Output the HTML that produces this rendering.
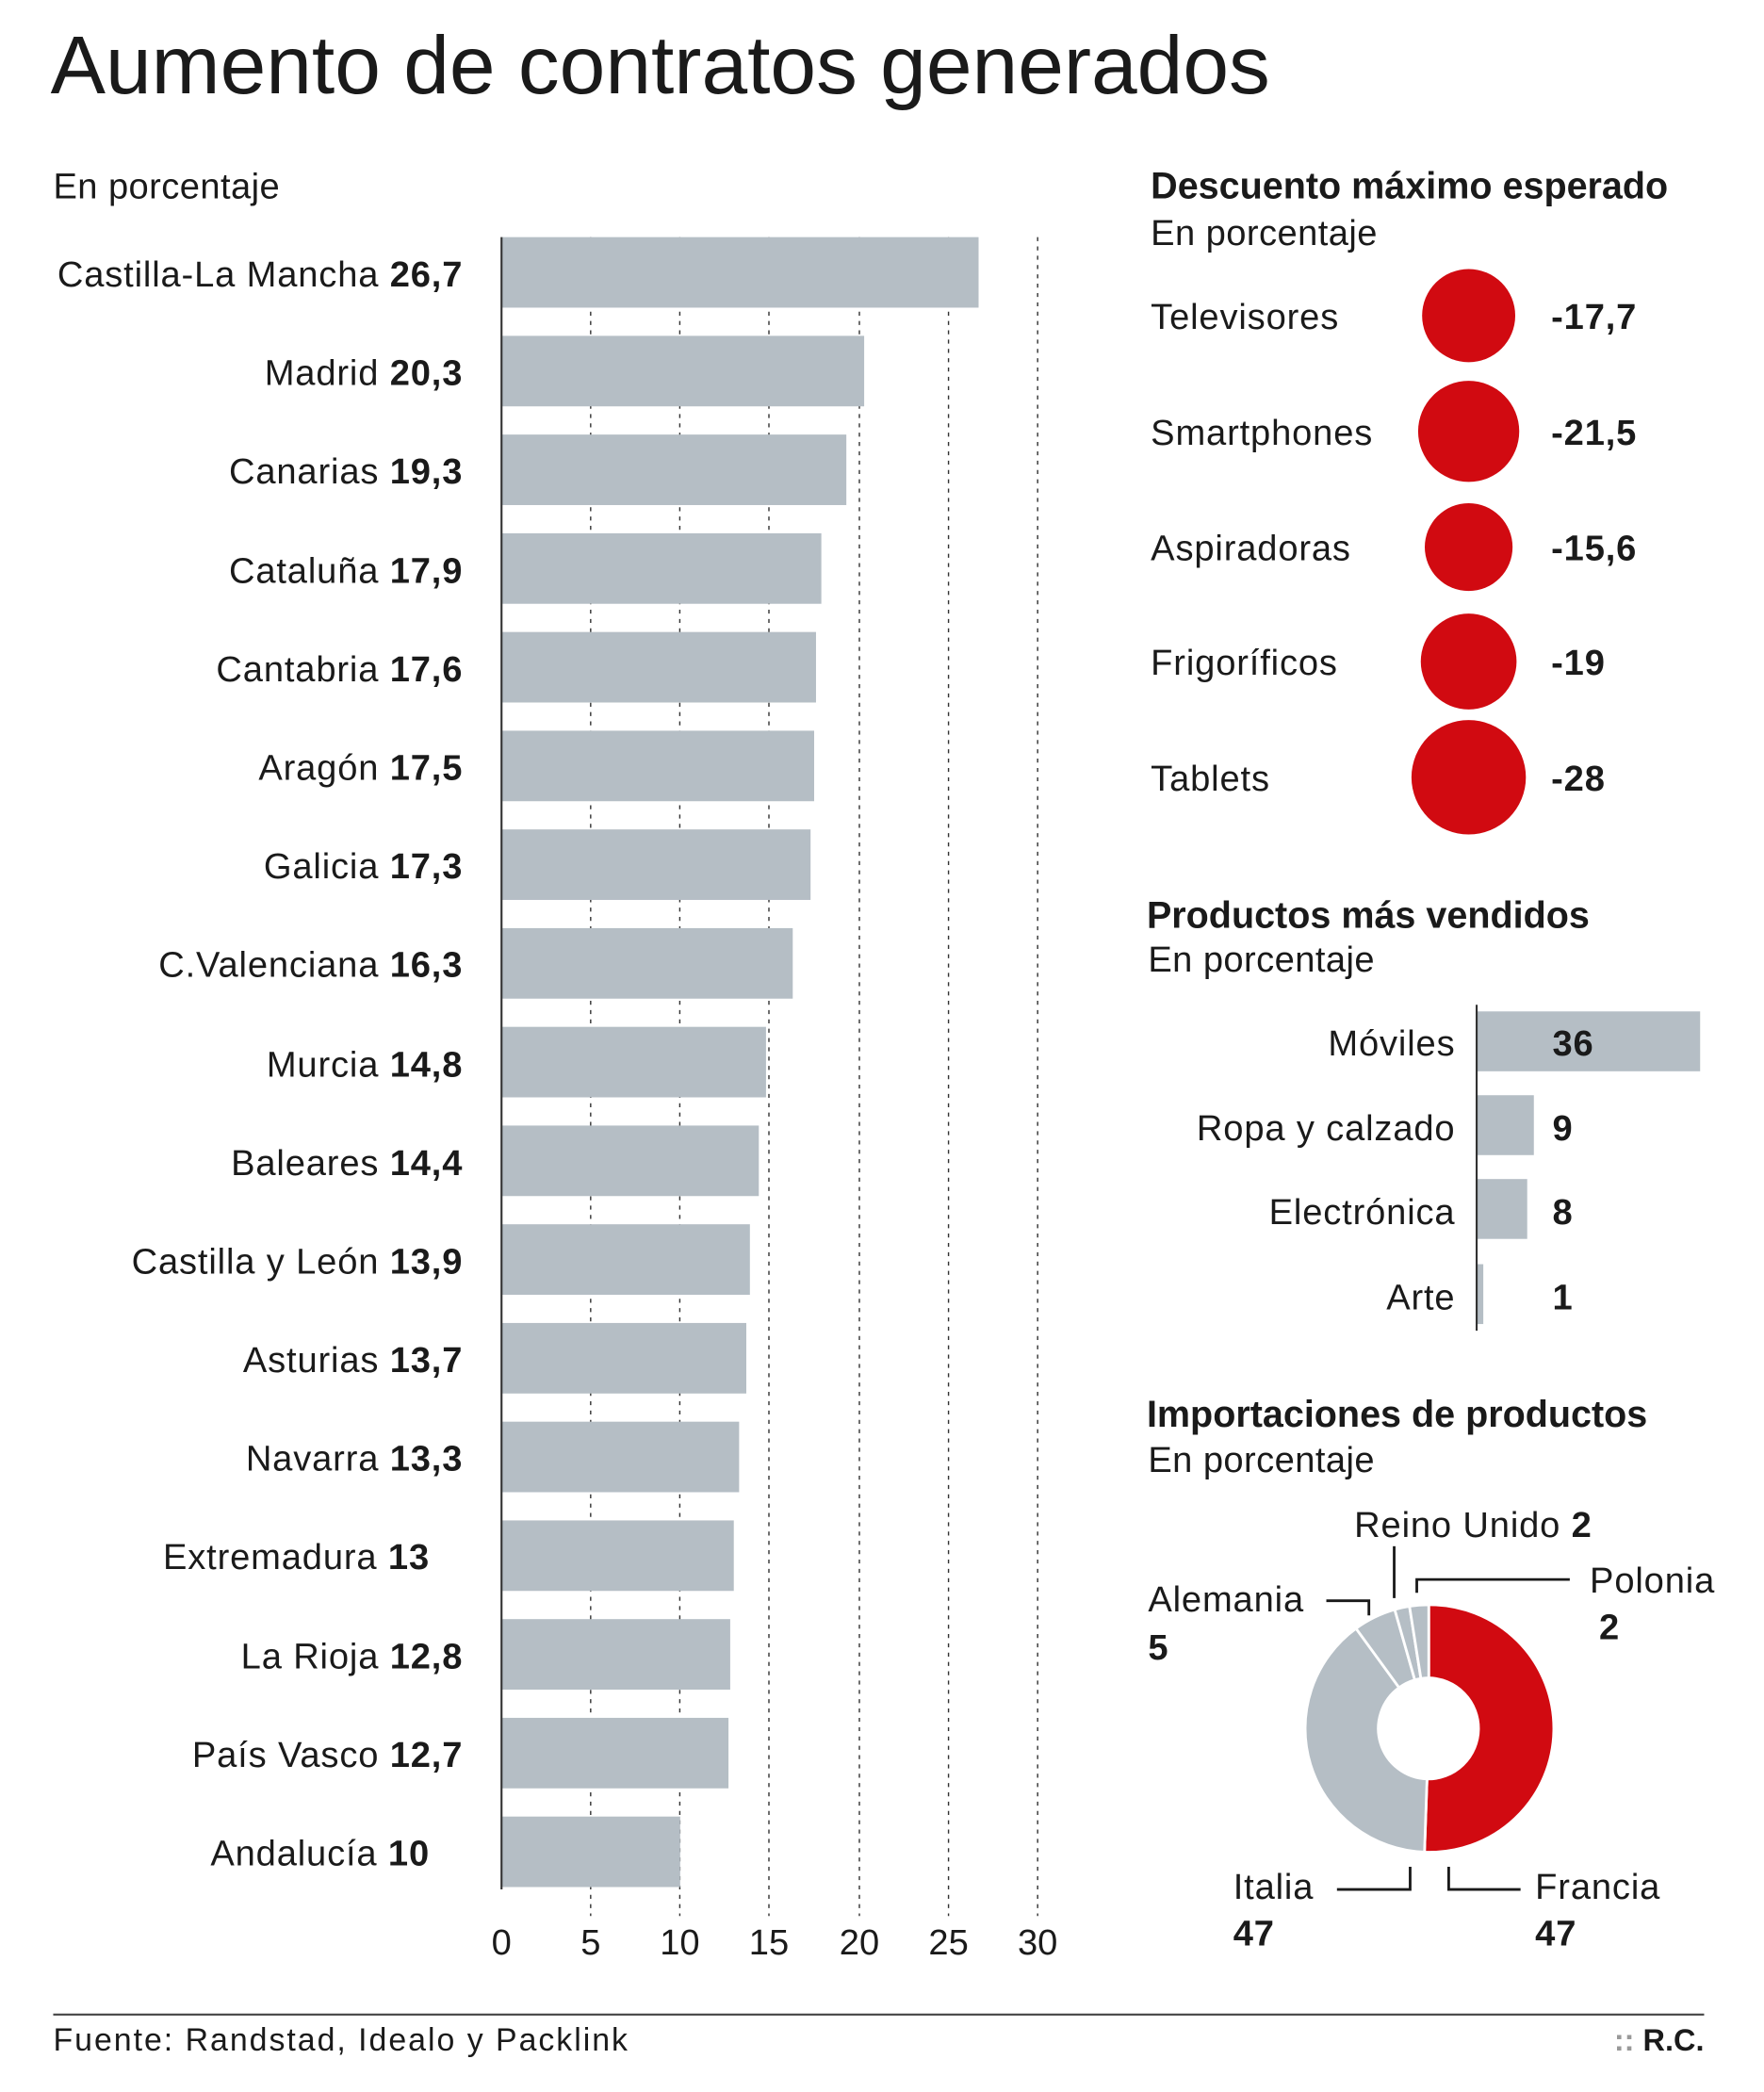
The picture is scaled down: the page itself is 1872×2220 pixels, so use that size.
<!DOCTYPE html>
<html><head><meta charset="utf-8"><style>
html,body{margin:0;padding:0;background:#fff}
svg{display:block}
text{font-family:"Liberation Sans",sans-serif;fill:#1a1a1a}
.b{font-weight:bold}
</style></head><body>
<svg width="1872" height="2220" viewBox="0 0 1326 1572" xmlns="http://www.w3.org/2000/svg">
<text x="38" y="70" font-size="62" fill="#222" letter-spacing="0">Aumento de contratos generados</text>
<text x="40" y="149" font-size="27" letter-spacing="0.3">En porcentaje</text>

<g stroke="#333" stroke-width="1" stroke-dasharray="3,4">
<line x1="444" y1="178" x2="444" y2="1440"/>
<line x1="511" y1="178" x2="511" y2="1440"/>
<line x1="578" y1="178" x2="578" y2="1440"/>
<line x1="646" y1="178" x2="646" y2="1440"/>
<line x1="713" y1="178" x2="713" y2="1440"/>
<line x1="780" y1="178" x2="780" y2="1440"/>
</g>
<g fill="#b5bec5">
<rect x="377" y="178" width="358.6" height="53"/>
<rect x="377" y="252.2" width="272.6" height="53"/>
<rect x="377" y="326.4" width="259.2" height="53"/>
<rect x="377" y="400.6" width="240.4" height="53"/>
<rect x="377" y="474.8" width="236.4" height="53"/>
<rect x="377" y="549" width="235" height="53"/>
<rect x="377" y="623.2" width="232.3" height="53"/>
<rect x="377" y="697.4" width="218.9" height="53"/>
<rect x="377" y="771.6" width="198.8" height="53"/>
<rect x="377" y="845.8" width="193.4" height="53"/>
<rect x="377" y="920" width="186.7" height="53"/>
<rect x="377" y="994.2" width="184" height="53"/>
<rect x="377" y="1068.4" width="178.6" height="53"/>
<rect x="377" y="1142.6" width="174.6" height="53"/>
<rect x="377" y="1216.8" width="171.9" height="53"/>
<rect x="377" y="1291" width="170.6" height="53"/>
<rect x="377" y="1365.2" width="134.3" height="53"/>
</g>
<line x1="377" y1="178" x2="377" y2="1420" stroke="#333" stroke-width="1.5"/>
<g font-size="27" text-anchor="end" letter-spacing="0.6">
<text x="348" y="215">Castilla-La Mancha <tspan class="b">26,7</tspan></text>
<text x="348" y="289">Madrid <tspan class="b">20,3</tspan></text>
<text x="348" y="363">Canarias <tspan class="b">19,3</tspan></text>
<text x="348" y="438">Cataluña <tspan class="b">17,9</tspan></text>
<text x="348" y="512">Cantabria <tspan class="b">17,6</tspan></text>
<text x="348" y="586">Aragón <tspan class="b">17,5</tspan></text>
<text x="348" y="660">Galicia <tspan class="b">17,3</tspan></text>
<text x="348" y="734">C.Valenciana <tspan class="b">16,3</tspan></text>
<text x="348" y="809">Murcia <tspan class="b">14,8</tspan></text>
<text x="348" y="883">Baleares <tspan class="b">14,4</tspan></text>
<text x="348" y="957">Castilla y León <tspan class="b">13,9</tspan></text>
<text x="348" y="1031">Asturias <tspan class="b">13,7</tspan></text>
<text x="348" y="1105">Navarra <tspan class="b">13,3</tspan></text>
<text x="323" y="1179">Extremadura <tspan class="b">13</tspan></text>
<text x="348" y="1254">La Rioja <tspan class="b">12,8</tspan></text>
<text x="348" y="1328">País Vasco <tspan class="b">12,7</tspan></text>
<text x="323" y="1402">Andalucía <tspan class="b">10</tspan></text>
</g>
<g font-size="27" text-anchor="middle">
<text x="377" y="1469">0</text><text x="444" y="1469">5</text><text x="511" y="1469">10</text>
<text x="578" y="1469">15</text><text x="646" y="1469">20</text><text x="713" y="1469">25</text><text x="780" y="1469">30</text>
</g>

<text x="865" y="149" font-size="28" class="b" letter-spacing="0">Descuento máximo esperado</text>
<text x="865" y="184" font-size="27" letter-spacing="0.3">En porcentaje</text>
<g fill="#d10a11">
<circle cx="1104" cy="237" r="35"/>
<circle cx="1104" cy="324" r="38"/>
<circle cx="1104" cy="411" r="33"/>
<circle cx="1104" cy="497" r="36"/>
<circle cx="1104" cy="584" r="43"/>
</g>
<g font-size="27" letter-spacing="0.6">
<text x="865" y="247">Televisores</text><text x="1166" y="247" class="b">-17,7</text>
<text x="865" y="334">Smartphones</text><text x="1166" y="334" class="b">-21,5</text>
<text x="865" y="421">Aspiradoras</text><text x="1166" y="421" class="b">-15,6</text>
<text x="865" y="507">Frigoríficos</text><text x="1166" y="507" class="b">-19</text>
<text x="865" y="594">Tablets</text><text x="1166" y="594" class="b">-28</text>
</g>

<text x="862" y="697" font-size="28" class="b">Productos más vendidos</text>
<text x="863" y="730" font-size="27" letter-spacing="0.3">En porcentaje</text>
<g fill="#b5bec5">
<rect x="1110" y="760" width="168" height="45"/>
<rect x="1110" y="823" width="43" height="45"/>
<rect x="1110" y="886" width="38" height="45"/>
<rect x="1110" y="950" width="5" height="45"/>
</g>
<line x1="1110" y1="755" x2="1110" y2="1000" stroke="#333" stroke-width="1.5"/>
<g font-size="27" letter-spacing="0.6">
<g text-anchor="end">
<text x="1094" y="793">Móviles</text><text x="1094" y="857">Ropa y calzado</text>
<text x="1094" y="920">Electrónica</text><text x="1094" y="984">Arte</text>
</g>
<text x="1167" y="793" class="b">36</text><text x="1167" y="857" class="b">9</text>
<text x="1167" y="920" class="b">8</text><text x="1167" y="984" class="b">1</text>
</g>

<text x="862" y="1072" font-size="28" class="b">Importaciones de productos</text>
<text x="863" y="1106" font-size="27" letter-spacing="0.3">En porcentaje</text>
<g stroke="#fff" stroke-width="2">
<path d="M1074,1206 A93,93 0 1 1 1070.8,1391.9 L1072.7,1337 A38,38 0 1 0 1074,1261 Z" fill="#d10a11"/>
<path d="M1070.8,1391.9 A93,93 0 0 1 1019.3,1223.8 L1051.7,1268.3 A38,38 0 0 0 1072.7,1337 Z" fill="#b5bec5"/>
<path d="M1019.3,1223.8 A93,93 0 0 1 1048.4,1209.6 L1063.5,1262.5 A38,38 0 0 0 1051.7,1268.3 Z" fill="#b5bec5"/>
<path d="M1048.4,1209.6 A93,93 0 0 1 1059.5,1207.1 L1068.1,1261.5 A38,38 0 0 0 1063.5,1262.5 Z" fill="#b5bec5"/>
<path d="M1059.5,1207.1 A93,93 0 0 1 1074,1206 L1074,1261 A38,38 0 0 0 1068.1,1261.5 Z" fill="#b5bec5"/>
</g>
<g stroke="#1a1a1a" stroke-width="2" fill="none">
<polyline points="997,1203 1029,1203 1029,1214"/>
<line x1="1048" y1="1162" x2="1048" y2="1201"/>
<polyline points="1180,1187 1065,1187 1065,1197"/>
<polyline points="1005,1420 1060,1420 1060,1403"/>
<polyline points="1143,1420 1089,1420 1089,1403"/>
</g>
<g font-size="27" letter-spacing="0.6">
<text x="863" y="1211">Alemania</text><text x="863" y="1247" class="b">5</text>
<text x="1018" y="1155">Reino Unido <tspan class="b">2</tspan></text>
<text x="1195" y="1197">Polonia</text><text x="1202" y="1232" class="b">2</text>
<text x="927" y="1427">Italia</text><text x="927" y="1462" class="b">47</text>
<text x="1154" y="1427">Francia</text><text x="1154" y="1462" class="b">47</text>
</g>

<line x1="40" y1="1514" x2="1281" y2="1514" stroke="#444" stroke-width="1.5"/>
<text x="40" y="1541" font-size="24" fill="#333" letter-spacing="1.4">Fuente: Randstad, Idealo y Packlink</text>
<text x="1281" y="1541" font-size="23" class="b" text-anchor="end"><tspan fill="#999">:: </tspan>R.C.</text>
</svg>
</body></html>
